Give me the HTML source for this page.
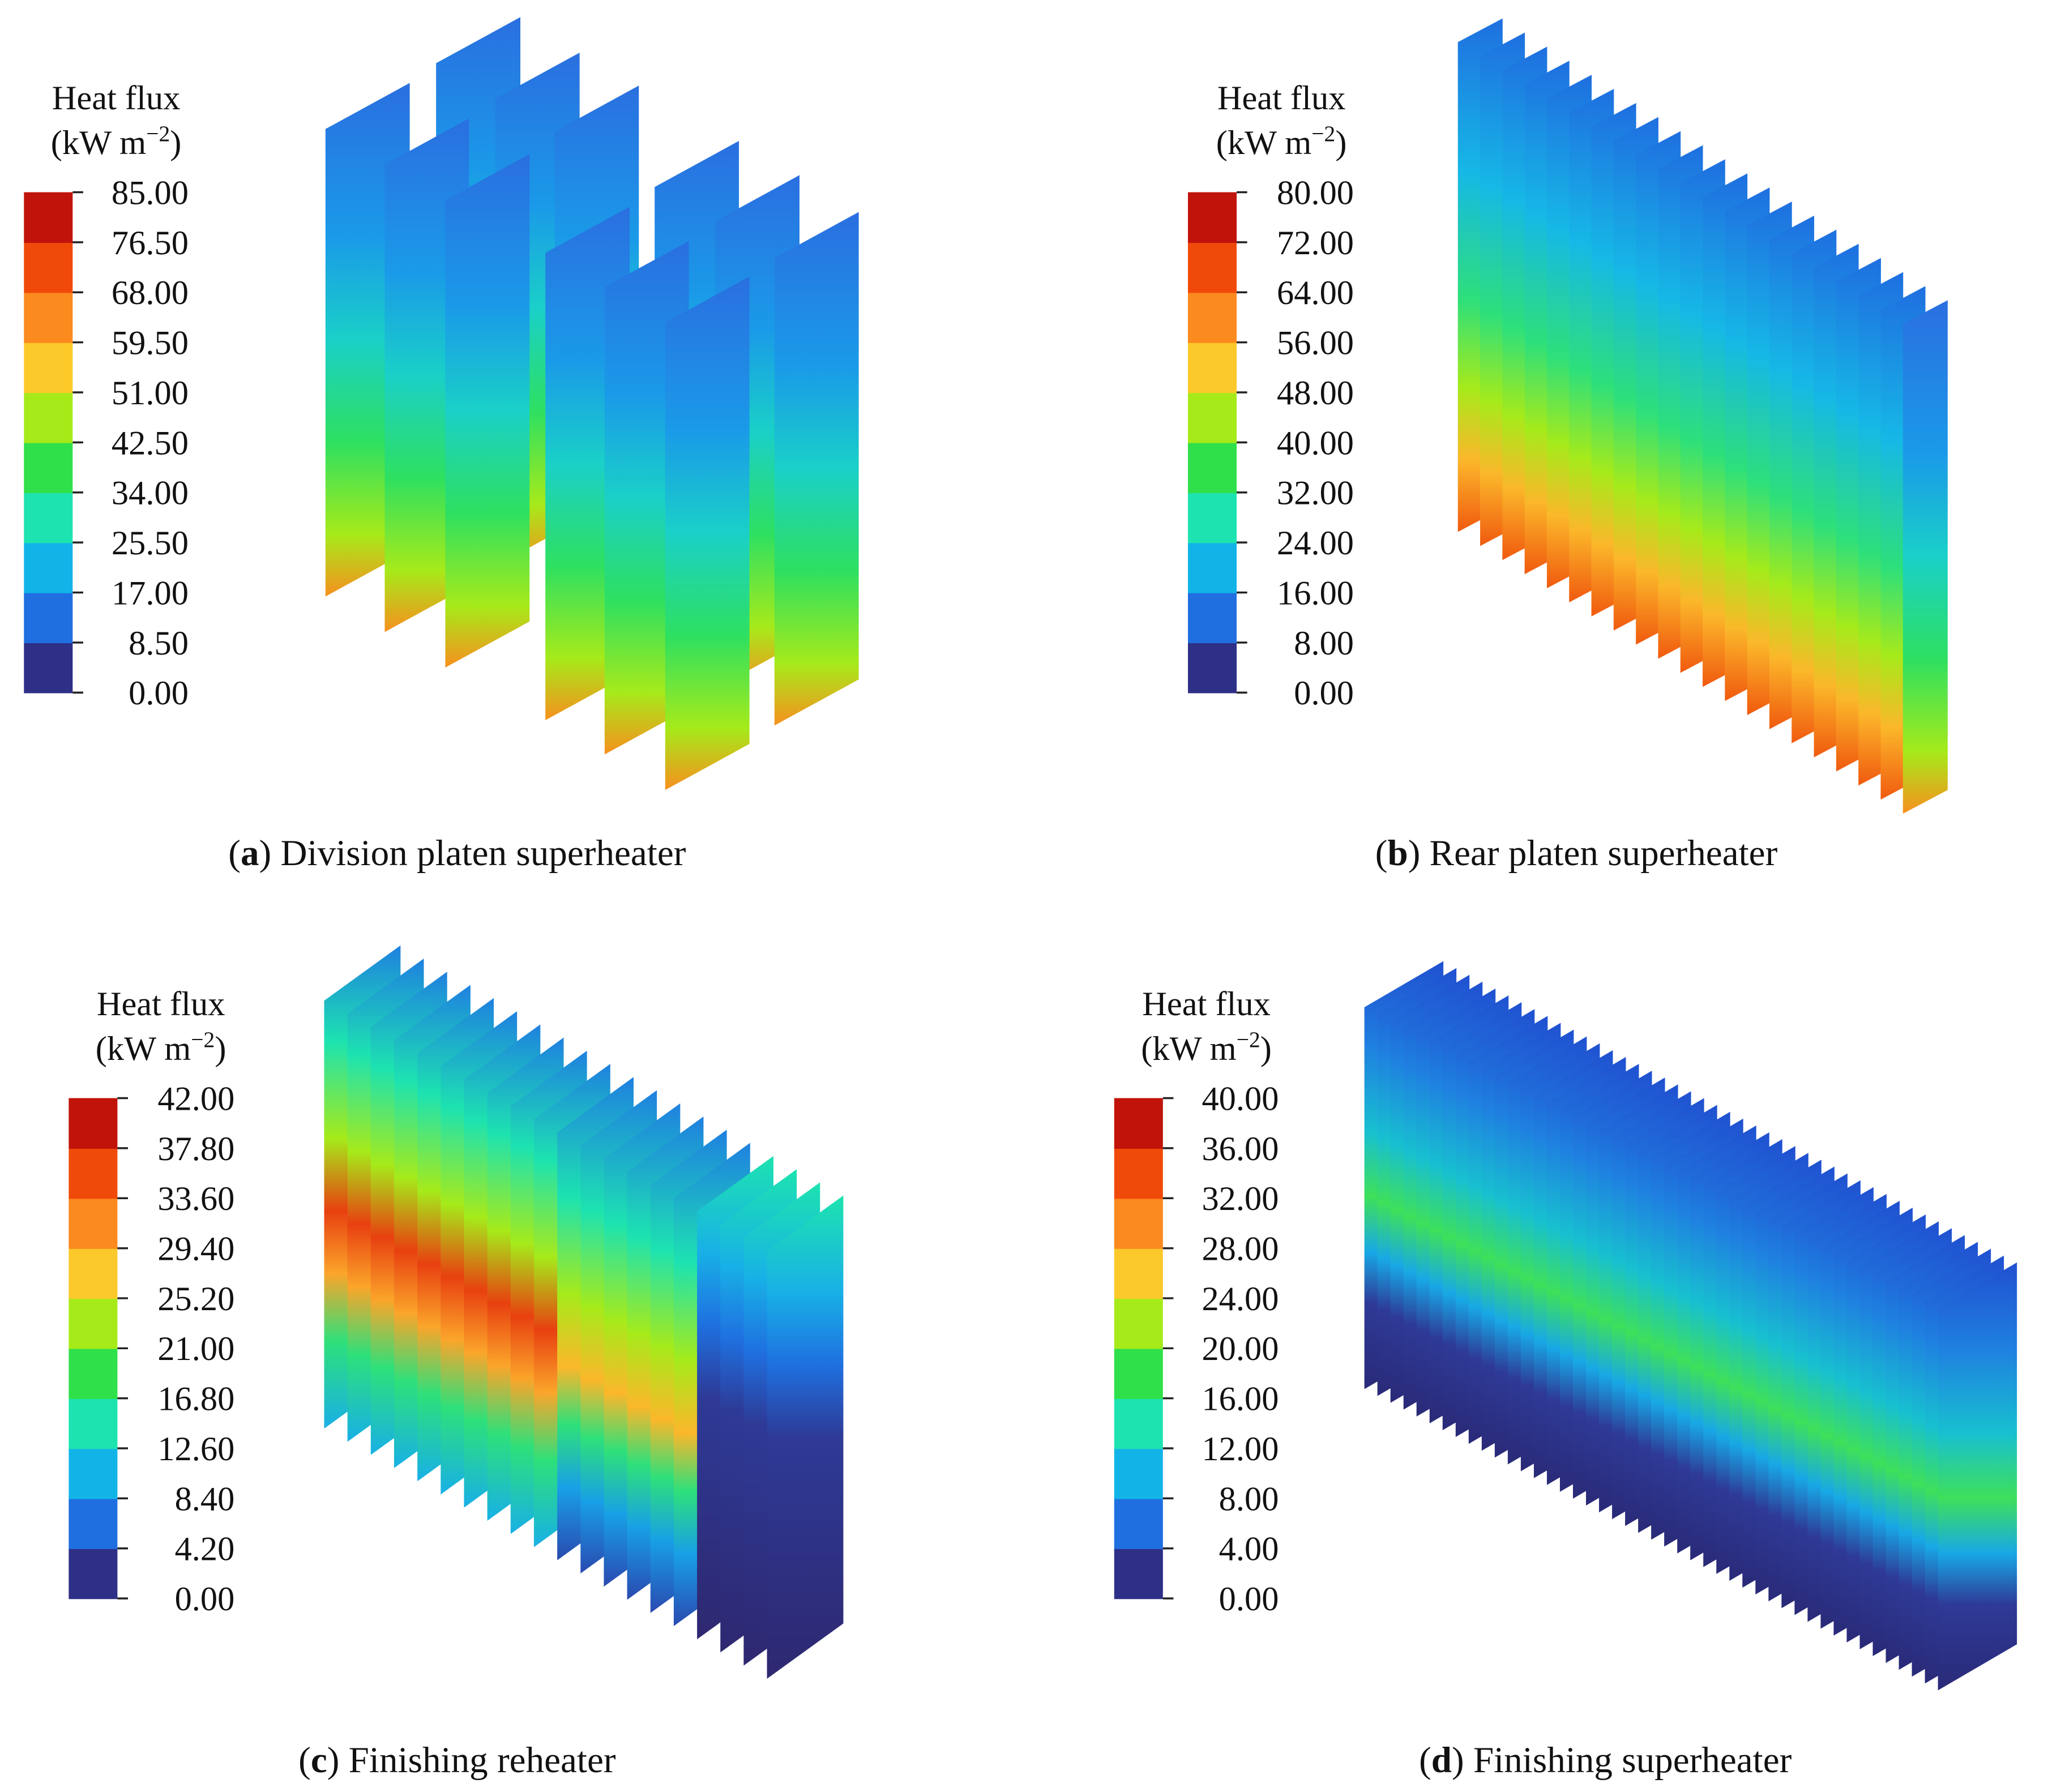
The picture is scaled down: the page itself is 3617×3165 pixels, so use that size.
<!DOCTYPE html>
<html><head><meta charset="utf-8">
<style>
html,body{margin:0;padding:0;background:#fff;}
svg{display:block;}
text{font-family:"Liberation Serif",serif;fill:#111;}
</style></head>
<body>
<svg id="fig" width="3617" height="3165" viewBox="0 0 1555 1361" xmlns="http://www.w3.org/2000/svg">
<defs>
<linearGradient id="gA" x1="0" y1="0" x2="0" y2="1">
<stop offset="0" stop-color="#2a6fe0"/><stop offset="0.3" stop-color="#1a9ae8"/><stop offset="0.5" stop-color="#1ad0c8"/><stop offset="0.7" stop-color="#2ee060"/><stop offset="0.88" stop-color="#a6ea1a"/><stop offset="1" stop-color="#f7901e"/></linearGradient>
<linearGradient id="gB" x1="0" y1="0" x2="0" y2="1">
<stop offset="0" stop-color="#1f6fe0"/><stop offset="0.3" stop-color="#16b8e6"/><stop offset="0.55" stop-color="#2ee07a"/><stop offset="0.72" stop-color="#a6ea1a"/><stop offset="0.86" stop-color="#fbb72a"/><stop offset="1" stop-color="#f05a0f"/></linearGradient>
<linearGradient id="gC" x1="0" y1="0" x2="0" y2="1">
<stop offset="0" stop-color="#1f80e0"/><stop offset="0.2" stop-color="#1de3b0"/><stop offset="0.4" stop-color="#a6ea1a"/><stop offset="0.55" stop-color="#e84010"/><stop offset="0.68" stop-color="#fba52a"/><stop offset="0.82" stop-color="#2ee07a"/><stop offset="1" stop-color="#18b0e6"/></linearGradient>
<linearGradient id="gCm" x1="0" y1="0" x2="0" y2="1">
<stop offset="0" stop-color="#1f80e0"/><stop offset="0.25" stop-color="#1de3b0"/><stop offset="0.45" stop-color="#a6ea1a"/><stop offset="0.6" stop-color="#fbb72a"/><stop offset="0.72" stop-color="#2ee07a"/><stop offset="0.85" stop-color="#18a0e6"/><stop offset="1" stop-color="#2a4ab0"/></linearGradient>
<linearGradient id="gC2" x1="0" y1="0" x2="0" y2="1">
<stop offset="0" stop-color="#1de3b0"/><stop offset="0.2" stop-color="#18b0e6"/><stop offset="0.35" stop-color="#1f70e0"/><stop offset="0.5" stop-color="#2e3a96"/><stop offset="1" stop-color="#2e2870"/></linearGradient>
<linearGradient id="gD" x1="0" y1="0" x2="0" y2="1">
<stop offset="0" stop-color="#2050d0"/><stop offset="0.2" stop-color="#1f80e0"/><stop offset="0.4" stop-color="#18c0d0"/><stop offset="0.55" stop-color="#3ee05a"/><stop offset="0.68" stop-color="#18a8e6"/><stop offset="0.8" stop-color="#2e3a96"/><stop offset="1" stop-color="#2a2a78"/></linearGradient>
</defs>
<g id="plots"></g>
<g id="bars"></g>
<text x="347" y="657" font-size="28" text-anchor="middle">(<tspan font-weight="bold">a</tspan>) Division platen superheater</text>
<text x="1197" y="657" font-size="28" text-anchor="middle">(<tspan font-weight="bold">b</tspan>) Rear platen superheater</text>
<text x="347" y="1346" font-size="28" text-anchor="middle">(<tspan font-weight="bold">c</tspan>) Finishing reheater</text>
<text x="1219" y="1346" font-size="28" text-anchor="middle">(<tspan font-weight="bold">d</tspan>) Finishing superheater</text>
</svg>
<script>
const NS="http://www.w3.org/2000/svg";
const bandColors=["#2e2f86","#1f6fe0","#12b4e8","#1de3b0","#2fe04a","#a6ea1a","#fbc92a","#fb8a1f","#f04a0a","#c0140a"];
const ticksA=["0.00","8.50","17.00","25.50","34.00","42.50","51.00","59.50","68.00","76.50","85.00"];
const ticksB=["0.00","8.00","16.00","24.00","32.00","40.00","48.00","56.00","64.00","72.00","80.00"];
const ticksC=["0.00","4.20","8.40","12.60","16.80","21.00","25.20","29.40","33.60","37.80","42.00"];
const ticksD=["0.00","4.00","8.00","12.00","16.00","20.00","24.00","28.00","32.00","36.00","40.00"];
const bars=document.getElementById('bars');
function mk(tag,attrs,parent){const e=document.createElementNS(NS,tag);for(const k in attrs)e.setAttribute(k,attrs[k]);parent.appendChild(e);return e;}
function colorbar(id,x,y0,ticks,labelX,titleX){
  const g=mk('g',{},bars);
  
  
  const h=380, n=bandColors.length, bh=h/n;
  bandColors.forEach((c,i)=>{
    const r=mk('rect',{x:x,y:y0+h-(i+1)*bh,width:37,height:bh+0.5,fill:c},g);
    
    
  });
  ticks.forEach((t,i)=>{
    const yy=y0+h-i*bh;
    mk('line',{x1:x+37,x2:x+45,y1:yy,y2:yy,stroke:'#222','stroke-width':1.5},g);
    const tx=mk('text',{x:labelX,y:yy+9,'font-size':26,'text-anchor':'end'},g);
    tx.textContent=t;
    
    
  });
  const t1=mk('text',{x:titleX,y:y0-63,'font-size':26,'text-anchor':'middle'},g);
  t1.textContent='Heat flux';
  
  
  const t2=mk('text',{x:titleX,y:y0-29,'font-size':26,'text-anchor':'middle'},g);
  t2.innerHTML='(kW m<tspan dy="-10" font-size="17">\u22122</tspan><tspan dy="10">)</tspan>';
  
  
}
colorbar('a',18,146,ticksA,143,88);
colorbar('b',902,146,ticksB,1028,973);
colorbar('c',52,834,ticksC,178,122);
colorbar('d',846,834,ticksD,971,916);

const plots=document.getElementById('plots');
function plate(g,x,y,w,rise,h,fill,name){
  const p=mk('polygon',{points:`${x},${y} ${x+w},${y-rise} ${x+w},${y-rise+h} ${x},${y+h}`,fill:fill},g);
  
  
}
// (a)
const ga=mk('g',{},plots);


[[331,48],[376,75],[421,100],[497,142],[543,168],[588,196]].forEach(p=>plate(ga,p[0],p[1],64,35,355,'url(#gA)','plate-back'));
[[247,98],[292,125],[338,152],[414,192],[459,218],[505,245]].forEach(p=>plate(ga,p[0],p[1],64,35,355,'url(#gA)','plate-front'));
// (b)
const gb=mk('g',{},plots);


for(let i=0;i<21;i++){const x=1107+i*16.9,y=32+i*10.7;plate(gb,x,y,34,18,372,i==20?'url(#gA)':'url(#gB)','plate');}
// (c)
const gc=mk('g',{},plots);


for(let i=0;i<20;i++){const x=246+i*17.7,y=760+i*10;const f=i>=16?'url(#gC2)':(i>=10?'url(#gCm)':'url(#gC)');plate(gc,x,y,58,42,325,f,'plate');}
// (d)
const gd=mk('g',{},plots);


for(let i=0;i<45;i++){const x=1036+i*9.9,y=765+i*5.2;plate(gd,x,y,60,35,290,'url(#gD)','plate');}
</script>
</body></html>
